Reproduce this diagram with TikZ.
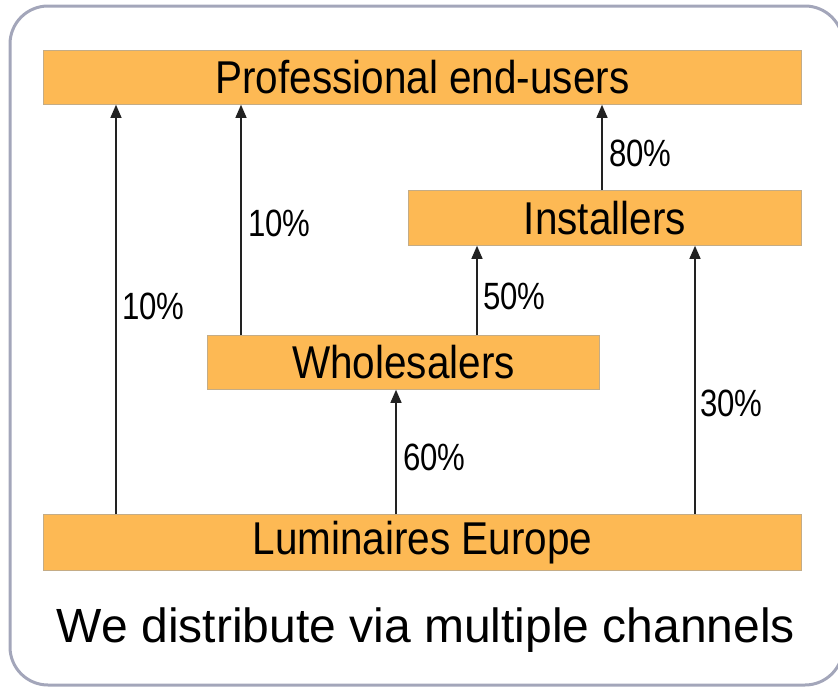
\documentclass[tikz,border=0pt]{standalone}
\usepackage{fontspec}
\setmainfont{Liberation Sans}
\newfontfamily\boxfont[FakeStretch=0.88]{Liberation Sans}
\newfontfamily\pctfont[FakeStretch=0.82]{Liberation Sans}
\usetikzlibrary{arrows.meta}
\definecolor{boxfill}{HTML}{FDB954}
\definecolor{boxedge}{HTML}{C4AC86}
\definecolor{frame}{HTML}{A3A6BA}
\definecolor{arrowcol}{HTML}{222222}
\tikzset{
  chan/.style={draw=boxedge, line width=0.8pt, fill=boxfill, inner sep=0pt,
    font=\boxfont\fontsize{46}{52}\selectfont, anchor=north west},
  arr/.style={draw=arrowcol, line width=1.3pt, -{Triangle[length=13pt,width=11pt]}},
  pct/.style={font=\pctfont\fontsize{38}{42}\selectfont, anchor=west, inner sep=0pt}
}
\begin{document}
\begin{tikzpicture}[x=1pt,y=-1pt]
\useasboundingbox (0,0) rectangle (838,688);
\clip (0,0) rectangle (838,688);
\draw[frame, line width=3pt, rounded corners=38pt] (10,6) rectangle (843,685);
% boxes
\node[chan, minimum width=758pt, minimum height=54pt] (prof) at (43,50) {Professional end-users};
\node[chan, minimum width=393pt, minimum height=55pt] (inst) at (408,190) {Installers};
\node[chan, minimum width=392pt, minimum height=54pt] (whol) at (207,335) {Wholesalers};
\node[chan, minimum width=758pt, minimum height=56pt] (lum) at (43,514) {Luminaires Europe};
% x positions of connectors
\coordinate (c1) at (116,0);
\coordinate (c2) at (241,0);
\coordinate (c3) at (602,0);
\coordinate (c4) at (477,0);
\coordinate (c5) at (396,0);
\coordinate (c6) at (695,0);
% connectors
\draw[arr] (lum.north -| c1) -- (prof.south -| c1);
\draw[arr] (whol.north -| c2) -- (prof.south -| c2);
\draw[arr] (inst.north -| c3) -- (prof.south -| c3);
\draw[arr] (whol.north -| c4) -- (inst.south -| c4);
\draw[arr] (lum.north -| c5) -- (whol.south -| c5);
\draw[arr] (lum.north -| c6) -- (inst.south -| c6);
% labels
\node[pct] (l1) at (122,306) {10\%};
\node[pct] (l2) at (248,223) {10\%};
\node[pct] (l3) at (609,153) {80\%};
\node[pct] (l4) at (483,296) {50\%};
\node[pct] (l5) at (403,457) {60\%};
\node[pct] (l6) at (700,403) {30\%};
% caption
\node[font=\fontsize{48}{54}\selectfont, inner sep=0pt] (cap) at (426,630) {We distribute via multiple channels};
\end{tikzpicture}
\end{document}
